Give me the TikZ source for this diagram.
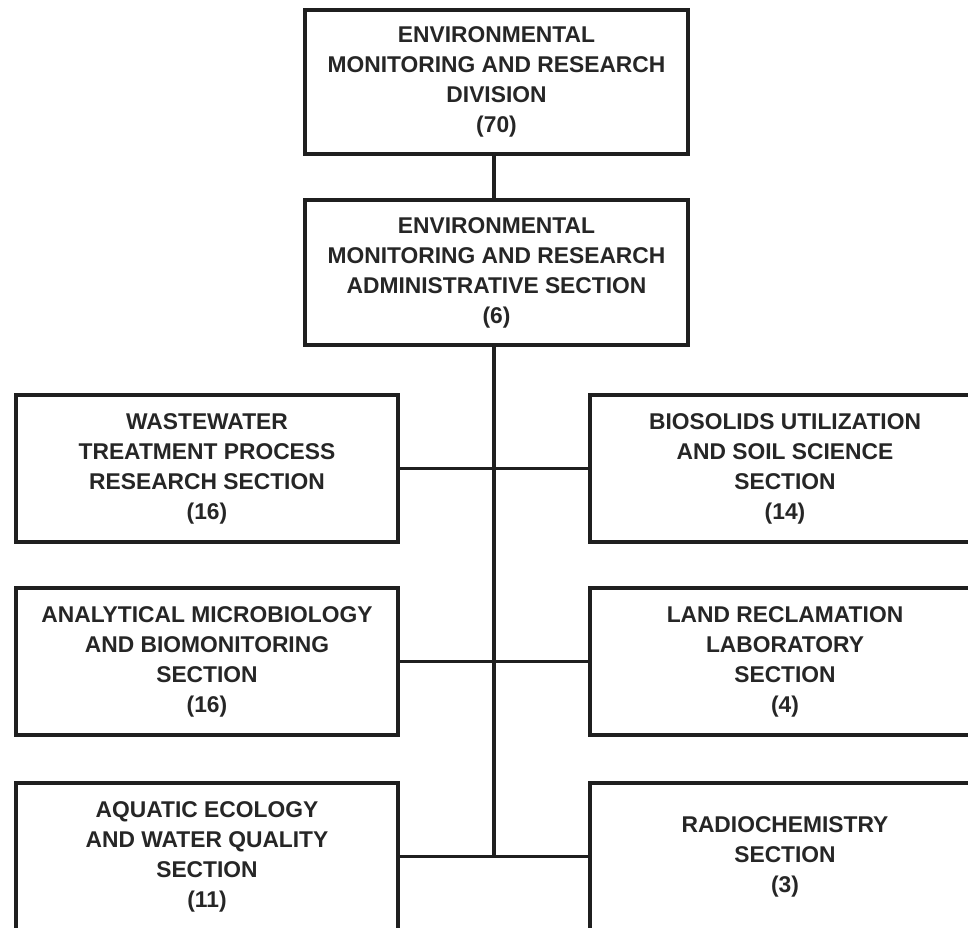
\documentclass[tikz,border=0pt]{standalone}
\usepackage{fontspec}
\setmainfont{Liberation Sans}
\begin{document}
\begin{tikzpicture}[x=1pt,y=-1pt,
  orgbox/.style={draw=black!88, line width=3.5pt, rectangle, align=center,
    inner sep=0pt, text=black!85,
    font=\fontsize{22.8}{30}\selectfont\bfseries},
  link/.style={draw=black!88, line width=3.5pt}]
\useasboundingbox (0,0) rectangle (968,927);
\fill[white] (0,0) rectangle (968,927);
\clip (0,0) rectangle (968,927);
\node[orgbox, minimum width=383pt, minimum height=144pt] (div) at (496.5,82)
  {ENVIRONMENTAL\\MONITORING AND RESEARCH\\DIVISION\\(70)};
\node[orgbox, minimum width=383pt, minimum height=145pt] (admin) at (496.5,272.5)
  {ENVIRONMENTAL\\MONITORING AND RESEARCH\\ADMINISTRATIVE SECTION\\(6)};
\node[orgbox, minimum width=382pt, minimum height=147pt] (wtp) at (207,468.5)
  {WASTEWATER\\TREATMENT PROCESS\\RESEARCH SECTION\\(16)};
\node[orgbox, minimum width=390pt, minimum height=147pt] (bio) at (785,468.5)
  {BIOSOLIDS UTILIZATION\\AND SOIL SCIENCE\\SECTION\\(14)};
\node[orgbox, minimum width=382pt, minimum height=147pt] (amb) at (207,661.5)
  {ANALYTICAL MICROBIOLOGY\\AND BIOMONITORING\\SECTION\\(16)};
\node[orgbox, minimum width=390pt, minimum height=147pt] (lrl) at (785,661.5)
  {LAND RECLAMATION\\LABORATORY\\SECTION\\(4)};
\node[orgbox, minimum width=382pt, minimum height=147pt] (aeq) at (207,856.5)
  {AQUATIC ECOLOGY\\AND WATER QUALITY\\SECTION\\(11)};
\node[orgbox, minimum width=390pt, minimum height=147pt] (rad) at (785,856.5)
  {RADIOCHEMISTRY\\SECTION\\(3)};
\coordinate (bot) at (494,857);
\draw[link] (div.south -| 494,0) -- (admin.north -| 494,0);
\draw[link] (admin.south -| 494,0) -- (bot);
\draw[link] (wtp.east) -- (bio.west);
\draw[link] (amb.east) -- (lrl.west);
\draw[link] (aeq.east) -- (rad.west);
\end{tikzpicture}
\end{document}
